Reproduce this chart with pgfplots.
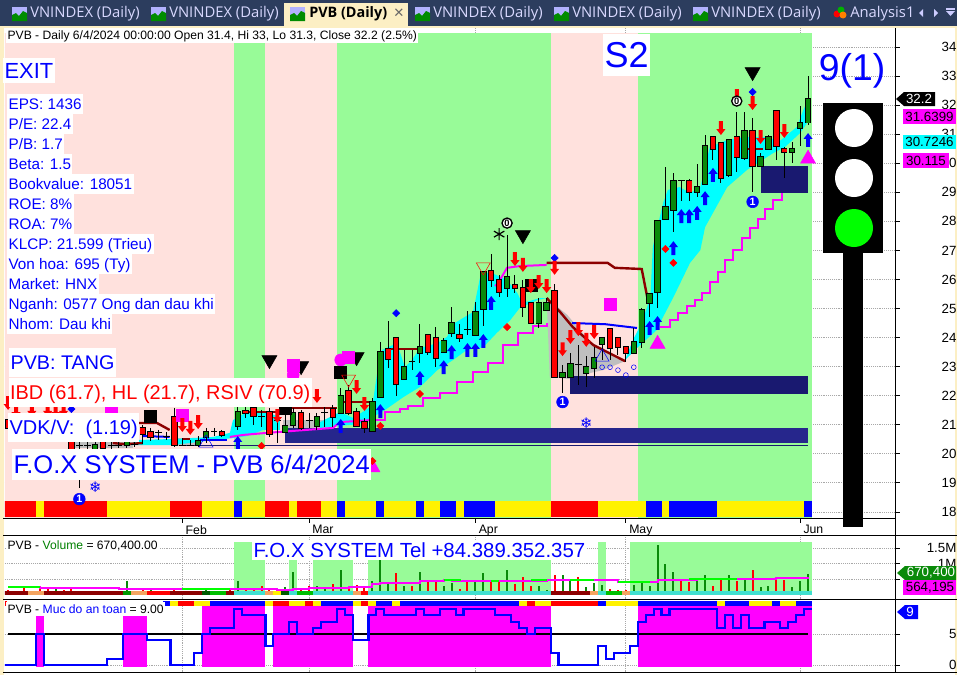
\documentclass[border=0pt]{standalone}
\usepackage{fontspec}
\usepackage{pgfplots}
\usepackage{pgfplotstable}
\pgfplotsset{compat=1.18}
\setmainfont{Liberation Sans}
\newfontfamily\tabfont{Open Sans}
\newfontfamily\symfont{DejaVu Sans}
\newcommand{\fs}[1]{\fontsize{#1}{#1}\selectfont}

\definecolor{magenta}{RGB}{255,0,255}
\definecolor{cyan}{RGB}{0,255,255}
\definecolor{bgpink}{HTML}{FFE1DD}
\definecolor{bggreen}{HTML}{98FB98}
\definecolor{navyA}{HTML}{26268C}
\definecolor{navyB}{HTML}{191970}
\definecolor{cream}{HTML}{FCEFC4}
\definecolor{tabbar}{HTML}{2C3D5E}
\definecolor{volgreen}{HTML}{0A8A0A}
\definecolor{bandturq}{HTML}{40E0D0}
\definecolor{bandorange}{HTML}{F4A460}
\definecolor{gridgray}{HTML}{A8A8A8}
\definecolor{candlegreen}{HTML}{0A8A0A}

% bars: i = bar number, prices
\pgfplotstableread{
i hi lo top bot
1 21.02 20.54 20.89 20.68
10 20.44 20.03 20.30 20.13
14 20.54 20.20 20.40 20.30
23 20.61 20.23 20.44 20.30
24 20.89 20.37 20.75 20.58
28 21.68 20.82 21.44 20.96
34 21.34 20.72 20.96 20.75
35 21.58 20.89 21.41 20.99
38 21.41 20.82 21.27 20.96
41 22.26 21.37 21.99 21.41
45 21.92 20.75 21.78 20.79
46 23.85 21.95 23.50 21.95
49 23.57 22.54 22.98 22.57
51 24.46 23.13 23.67 23.47
54 23.99 23.47 23.88 23.50
55 25.05 24.02 24.50 24.16
58 25.22 24.05 24.88 24.09
59 26.26 24.40 26.26 24.98
62 27.53 25.39 26.08 25.70
66 25.36 24.33 25.19 24.50
67 25.36 24.92 25.19 24.95
69 23.06 22.09 22.78 22.64
70 23.47 22.64 23.09 22.64
72 23.36 22.30 22.98 22.78
73 23.67 22.61 23.30 22.95
74 23.99 23.23 23.99 23.78
78 24.33 23.47 23.85 23.47
79 25.02 23.64 24.95 23.85
80 25.50 24.71 25.50 25.19
81 28.01 25.02 28.01 25.57
82 29.87 28.05 28.49 28.08
83 29.66 27.63 29.39 28.39
86 29.97 28.84 29.18 29.01
87 30.97 29.25 30.59 29.28
90 30.80 29.53 30.80 29.60
92 31.76 30.11 31.11 30.18
94 30.35 29.87 30.21 29.91
95 30.97 30.45 30.90 30.49
98 30.73 30.00 30.49 30.39
99 31.97 30.59 31.39 31.21
100 33 31.3 32.2 31.4
}\upbars
\pgfplotstableread{
i hi lo top bot
-1 21.34 20.68 21.16 20.89
0 21.23 20.61 21.02 20.75
7 20.65 20.06 20.40 20.16
11 20.54 20.06 20.40 20.20
16 20.99 20.33 20.89 20.68
17 20.89 20.44 20.75 20.58
20 21.58 20.23 21.27 20.30
26 20.82 20.58 20.75 20.65
29 21.61 21.23 21.47 21.41
30 21.75 20.99 21.58 21.30
32 21.58 20.58 21.44 20.68
36 21.51 20.82 21.41 20.89
40 21.68 20.92 21.54 21.27
42 22.37 21.34 22.16 21.41
43 21.58 20.92 21.44 20.96
44 21.23 20.72 21.09 20.89
47 24.57 22.95 23.60 23.26
48 23.99 21.99 23.99 22.40
52 24.09 23.40 24.09 23.50
53 24.36 22.98 23.99 23.30
56 24.46 23.85 24.09 23.99
60 26.87 25.74 26.29 25.98
61 26.15 25.39 25.98 25.57
63 26.15 25.53 25.81 25.70
64 25.98 24.71 25.70 25.05
65 25.22 24.46 25.19 24.50
68 25.84 22.64 25.60 22.64
75 24.29 23.23 24.29 23.64
76 23.99 23.40 23.99 23.67
77 23.67 23.16 23.67 23.47
85 29.46 28.70 29.39 29.01
88 30.90 30.11 30.90 30.49
89 30.69 29.32 30.69 29.49
91 31.76 29.70 30.90 30.21
93 31.56 29.01 31.11 29.91
96 31.80 30.11 31.80 30.59
97 30.56 29.49 30.49 30.39
}\dnbars
\pgfplotstableread{
i hi lo c
8 20.47 18.82 20.30
9 20.40 20.13 20.30
12 20.47 20.13 20.30
13 20.40 20.20 20.30
15 20.47 20.23 20.33
18 20.82 20.47 20.72
19 20.75 20.47 20.58
21 20.54 20.27 20.30
22 20.47 20.27 20.30
25 20.89 20.61 20.75
31 21.51 20.92 21.30
33 21.23 20.37 21.16
37 21.41 20.89 21.16
39 21.61 20.92 21.41
50 23.57 22.88 23.19
57 24.91 24.09 24.29
71 23.74 22.37 23.09
84 29.42 28.70 29.39
}\dojibars

% volume
\pgfplotstableread{
i v
5 183000
8 100000
10 90000
14 420000
17 140000
23 120000
24 140000
28 450000
34 235000
35 710000
38 290000
39 215000
41 775000
45 450000
46 1100000
47 400000
49 290000
51 710000
54 260000
55 365000
58 470000
59 690000
62 795000
66 290000
67 130000
69 615000
70 470000
72 235000
73 365000
74 320000
78 320000
79 450000
80 290000
81 1610000
82 970000
83 740000
86 470000
87 645000
90 615000
92 505000
94 235000
95 260000
98 235000
99 450000
100 670400
}\volup
\pgfplotstableread{
i v
-1 160000
1 258000
3 183000
4 225000
6 130000
7 258000
9 100000
16 160000
20 160000
26 100000
27 160000
29 150000
30 130000
31 290000
32 180000
33 150000
36 215000
37 290000
40 345000
42 290000
43 320000
44 290000
48 690000
50 290000
52 450000
53 470000
56 180000
57 430000
60 450000
61 450000
63 345000
64 580000
65 260000
68 645000
71 560000
75 180000
76 150000
77 130000
84 450000
85 400000
88 290000
89 505000
91 430000
93 805000
96 505000
97 470000
}\voldn

\pgfdeclareplotmark{fox up}{%
  \pgfpathmoveto{\pgfqpoint{0pt}{5.2pt}}
  \pgfpathlineto{\pgfqpoint{3.4pt}{0.8pt}}
  \pgfpathlineto{\pgfqpoint{1.5pt}{0.8pt}}
  \pgfpathlineto{\pgfqpoint{1.5pt}{-5.2pt}}
  \pgfpathlineto{\pgfqpoint{-1.5pt}{-5.2pt}}
  \pgfpathlineto{\pgfqpoint{-1.5pt}{0.8pt}}
  \pgfpathlineto{\pgfqpoint{-3.4pt}{0.8pt}}
  \pgfpathclose\pgfusepathqfill}
\pgfdeclareplotmark{fox down}{%
  \pgfpathmoveto{\pgfqpoint{0pt}{-5.2pt}}
  \pgfpathlineto{\pgfqpoint{3.4pt}{-0.8pt}}
  \pgfpathlineto{\pgfqpoint{1.5pt}{-0.8pt}}
  \pgfpathlineto{\pgfqpoint{1.5pt}{5.2pt}}
  \pgfpathlineto{\pgfqpoint{-1.5pt}{5.2pt}}
  \pgfpathlineto{\pgfqpoint{-1.5pt}{-0.8pt}}
  \pgfpathlineto{\pgfqpoint{-3.4pt}{-0.8pt}}
  \pgfpathclose\pgfusepathqfill}

\pgfplotsset{
  fox panel/.style={
    scale only axis, width=667.5pt,
    xmin=-1.389, xmax=110.98,
    xtick={21,37,58,77,99},
    xmajorgrids, ymajorgrids,
    grid style={gridgray, densely dotted, line width=0.6pt},
    axis y line*=right, axis x line*=bottom,
    axis line style={black, line width=0.75pt},
    tick style={black, line width=0.6pt},
    tick align=outside,
    major tick length=3.6pt,
    scaled y ticks=false,
    /pgf/number format/assume math mode=true,
    tick label style={font=\fs{10}},
    yticklabel style={anchor=east, xshift=46pt},
    every axis plot/.append style={forget plot},
  },
  wick/.style={draw=none, no marks, error bars/.cd, y dir=minus, y explicit, error mark=none,
    error bar style={draw=black, line width=0.75pt}},
  body/.style={draw=none, no marks, error bars/.cd, y dir=minus, y explicit, error mark=none,
    error bar style={#1}},
}
\newcommand{\area}[3]{\addplot[fill=#3, draw=none] coordinates {(#1,34.48) (#2,34.48)} \closedcycle;}
\newcommand{\strip}[3]{\addplot[fill=#3, draw=none] coordinates {(#1,18.37) (#2,18.37) (#2,17.83) (#1,17.83)} --cycle;}
\newcommand{\zone}[5]{\addplot[fill=#5, draw=none] coordinates {(#1,#3) (#2,#3) (#2,#4) (#1,#4)} --cycle;}
\newcommand{\varea}[3]{\addplot[fill=#3, draw=none] coordinates {(#1,1690000) (#2,1690000) (#2,0) (#1,0)} --cycle;}
\newcommand{\vband}[3]{\addplot[fill=#3, draw=none] coordinates {(#1,100000) (#2,100000) (#2,0) (#1,0)} --cycle;}
\newcommand{\sarea}[3]{\addplot[fill=magenta, draw=none] coordinates {(#1,#3) (#2,#3) (#2,-0.27) (#1,-0.27)} --cycle;}
\newcommand{\sstrip}[3]{\addplot[fill=#3, draw=none] coordinates {(#1,10.3) (#2,10.3) (#2,9.5) (#1,9.5)} --cycle;}

% text label with a white box: x, y (centre of the capitals), font size in pt, colour, box height in px, text
\newcommand{\lbl}[6]{\node[anchor=west, fill=white, inner xsep=1pt, inner ysep=0pt,
  text height={(0.36*#3+0.375*#5)*1pt}, text depth={(0.375*#5-0.36*#3)*1pt},
  text=#4, font=\fs{#3}] at (#1,#2) {#6};}
\newcommand{\tabicon}[1]{%
  \fill[white!70!blue] (#1,7) rectangle ++(15,14);
  \fill[green!55!black] (#1,21) -- ++(0,-6) -- ++(4,-2) -- ++(3,3) -- ++(4,-5) -- ++(4,2) -- ++(0,8) -- cycle;}
\newcommand{\tabtext}[2]{\node[anchor=west, inner sep=0pt, text=white!85!blue, font=\tabfont\fs{11.1}] at (#1,14) {#2};}

\begin{document}
\begin{tikzpicture}[x=0.75pt, y=-0.75pt]
\path[use as bounding box] (0,0) rectangle (957,675);
\fill[white] (0,0) rectangle (957,675);
% window frame
\fill[cream] (0,26) rectangle (957,28);
\fill[cream] (0,26) rectangle (4,675);
\fill[cream] (955,26) rectangle (957,675);
\fill[tabbar] (0,0) rectangle (957,26);
\fill[cream] (284,3) rectangle (408,26);

% price panel
\begin{axis}[fox panel, at={(3.75pt,-388.5pt)}, anchor=south west, height=367.5pt,
  ymin=17.79, ymax=34.654, ytick={18,...,34},
  xticklabels={Feb,Mar,Apr,May,Jun},
  xticklabel style={anchor=north west, xshift=-1pt, yshift=1.5pt, font=\fs{9.2}},
]
% background zones
\area{-1.5}{27.5}{bgpink}
\area{27.5}{31.5}{bggreen}
\area{31.5}{40.5}{bgpink}
\area{40.5}{67.5}{bggreen}
\area{67.5}{78.5}{bgpink}
\area{78.5}{100.5}{bggreen}
% colour strip along the bottom
\strip{-1.5}{2.5}{red}\strip{2.5}{3.5}{yellow}\strip{3.5}{11.5}{red}\strip{11.5}{19.5}{yellow}
\strip{19.5}{23.5}{red}\strip{23.5}{27.5}{yellow}\strip{27.5}{28.5}{blue}\strip{28.5}{31.5}{yellow}
\strip{31.5}{34.5}{red}\strip{34.5}{35.5}{yellow}\strip{35.5}{38.5}{red}\strip{38.5}{40.5}{yellow}
\strip{40.5}{41.5}{blue}\strip{41.5}{45.5}{yellow}\strip{45.5}{46.5}{blue}\strip{46.5}{50.5}{yellow}
\strip{50.5}{51.5}{blue}\strip{51.5}{53.5}{yellow}\strip{53.5}{55.5}{blue}\strip{55.5}{56.5}{yellow}
\strip{56.5}{60.5}{blue}\strip{60.5}{67.5}{yellow}\strip{67.5}{73.5}{red}\strip{73.5}{79.5}{yellow}
\strip{79.5}{81.5}{blue}\strip{81.5}{82.5}{yellow}\strip{82.5}{88.5}{blue}\strip{88.5}{99.5}{yellow}
\strip{99.5}{100.5}{blue}
% gray zones
\zone{6.6}{14.8}{20.40}{20.20}{lightgray}
\zone{19.8}{23.2}{20.54}{20.27}{lightgray}
\zone{33.7}{39.6}{21.16}{20.89}{lightgray}
\zone{43.7}{44.3}{21.16}{20.89}{lightgray}
\addplot[fill=lightgray, draw=none] coordinates {(67,25.36) (69.6,24.78) (72.5,23.85) (75,23.50) (76.9,23.19) (74.1,22.88) (72.5,22.78) (70.8,22.54) (68.7,22.61) (67.4,22.61)} --cycle;
% cyan band
\addplot[fill=cyan, draw=none] coordinates {(14.8,20.47) (19.8,20.51) (24.9,20.58) (27,20.72) (27.4,21.16) (29.2,21.44) (31.2,21.47) (33.3,21.27) (33.3,20.82) (31.2,20.82) (29.2,20.61) (27.4,20.54) (24.9,20.47) (19.8,20.30) (14.8,20.30)} --cycle;
\addplot[fill=cyan, draw=none] coordinates {(38.4,21.09) (40.9,21.44) (42.6,21.23) (45.1,21.68) (45.1,21.27) (43.2,21.02) (40.9,20.96) (38.4,20.89)} --cycle;
\addplot[fill=cyan, draw=none] coordinates {(45.1,21.85) (45.7,22.98) (46.2,23.57) (48.1,23.81) (49.1,22.98) (50,23.23) (51,23.64) (53.2,23.81) (54.4,24.02) (55.4,24.50) (57.7,24.88) (58.6,26.08) (59.8,26.26) (62,25.98) (63.3,25.53) (63.9,25.19) (66.2,25.36) (67,25.36)
  (65.8,25.29) (63.6,25.02) (62.4,24.60) (60.7,24.16) (59,23.67) (56.9,23.57) (55.2,23.23) (53.2,22.88) (51,22.30) (48.9,21.95) (46.6,21.51) (45.1,21.27)} --cycle;
\addplot[fill=cyan, draw=none] coordinates {(76.9,23.23) (77.9,23.92) (79,24.50) (80.1,25.39) (80.4,27.12) (81.7,28.63) (82.3,29.08) (83.8,29.18) (85.1,28.97) (86.4,29.18) (87.6,30.56) (89.8,30.80) (92,30.90) (95.2,30.90) (96.1,30.69) (98.6,31.25) (99.4,31.83) (100,32.18)
  (99.9,31.39) (99,31.04) (97.1,30.56) (95.6,30.35) (92.3,29.77) (89.8,29.18) (87,27.80) (86.4,27.01) (85.1,26.57) (83,25.39) (81.7,24.71) (80.9,24.26) (78.8,23.74) (76.9,23.23)} --cycle;
% support blocks
\zone{34}{100}{20.89}{20.37}{navyA}
\zone{70}{100}{22.68}{22.06}{navyB}
\zone{94}{100}{29.91}{28.97}{navyB}
\addplot[navyB, line width=0.75pt] coordinates {(21,20.30) (100,20.30)};
% stepped lines
\addplot[magenta, line width=1.5pt] coordinates {(27,20.58) (28.7,20.65) (31.7,20.72) (40,20.89) (40.9,21.09) (44.7,21.16)};
\addplot[magenta, line width=1.5pt, const plot] coordinates {(44.7,21.16) (46.6,21.44) (48.5,21.54) (49.5,21.65) (51.4,21.92) (53.5,22.09) (55.7,22.47) (57.7,22.81) (59.6,23.13) (61.5,23.74) (63.4,24.16) (65.3,24.40) (67,24.50)};
\addplot[magenta, line width=1.5pt] coordinates {(60.5,25.77) (61.1,25.98) (62,26.40) (63.6,26.46) (67,26.50)};
\addplot[magenta, line width=1.5pt, const plot] coordinates {(81.3,24.36) (82.6,24.60) (83.6,24.84) (84.7,25.08) (85.7,25.29) (86.6,25.53) (87.6,25.91) (88.6,26.26) (89.5,26.67) (90.5,27.01) (91.7,27.43) (92.7,27.77) (93.7,28.08) (94.6,28.42) (95.6,28.73) (96.7,28.97)};
% resistance
\addplot[blue, line width=1.5pt] coordinates {(16,20.61) (19.4,20.58)};
\addplot[blue, line width=1.5pt] coordinates {(23.2,20.47) (26.6,20.47)};
\addplot[blue, line width=1.5pt] coordinates {(70.2,24.50) (74.4,24.46) (78.4,24.33)};
\addplot[red!55!black, line width=1.8pt] coordinates {(12.2,20.37) (13.8,20.33) (16,20.37)};
\addplot[red!55!black, line width=1.8pt] coordinates {(15.3,21.06) (17.8,21.06) (19.4,20.82)};
\addplot[red!55!black, line width=1.8pt] coordinates {(21.1,20.51) (22,20.51)};
\addplot[red!55!black, line width=1.8pt] coordinates {(28.7,21.44) (33.7,21.44)};
\addplot[red!55!black, line width=1.8pt] coordinates {(34.3,21.58) (40.5,21.58)};
\addplot[red!55!black, line width=1.8pt] coordinates {(40.9,21.78) (45,21.78)};
\addplot[red!55!black, line width=1.8pt] coordinates {(47,23.60) (51,23.60)};
\addplot[red!55!black, line width=1.8pt] coordinates {(67,26.57) (74.7,26.57) (75.6,26.40) (79,26.36) (79.7,25.39)};
\addplot[red!55!black, line width=1.8pt] coordinates {(67,25.36) (68.7,24.88) (70.3,24.36) (72.9,23.74) (76.9,23.19)};
\addplot[red!55!black, line width=1.8pt] coordinates {(92.3,30.49) (94.3,30.49)};
% candles
\addplot[wick] table[x=i, y=hi, y error minus expr=\thisrow{hi}-\thisrow{lo}] {\upbars};
\addplot[wick] table[x=i, y=hi, y error minus expr=\thisrow{hi}-\thisrow{lo}] {\dnbars};
\addplot[wick] table[x=i, y=hi, y error minus expr=\thisrow{hi}-\thisrow{lo}] {\dojibars};
\addplot[only marks, mark=-, mark size=2.6pt, mark options={black, line width=0.75pt}] table[x=i, y=c] {\dojibars};
\addplot[body={draw=black, line width=4.8pt}] table[x=i, y expr=\thisrow{top}+0.03, y error minus expr=\thisrow{top}-\thisrow{bot}+0.06] {\upbars};
\addplot[body={draw=black, line width=4.8pt}] table[x=i, y expr=\thisrow{top}+0.03, y error minus expr=\thisrow{top}-\thisrow{bot}+0.06] {\dnbars};
\addplot[body={draw=candlegreen, line width=3.4pt}] table[x=i, y=top, y error minus expr=\thisrow{top}-\thisrow{bot}] {\upbars};
\addplot[body={draw=red, line width=3.4pt}] table[x=i, y=top, y error minus expr=\thisrow{top}-\thisrow{bot}] {\dnbars};
% signal marks
\addplot[only marks, mark=triangle*, mark size=6.5pt, mark options={rotate=180}, black] coordinates {(32,23.23) (36,23.02) (43,23.33) (64,27.53) (93,33.14)};
\addplot[only marks, mark=*, mark size=4.5pt, magenta] coordinates {(35,22.71) (41,23.23)};
\addplot[only marks, mark=square*, mark size=4.5pt, magenta] coordinates {(35,23.06) (42,23.33) (21,21.34) (12,21.51) (75,25.15)};
\addplot[only marks, mark=square*, mark size=4.5pt, black] coordinates {(17,21.30) (41,22.81) (65,25.81) (34,21.58)};
\addplot[only marks, mark=triangle*, mark size=6.5pt, magenta] coordinates {(100,30.15) (81,23.78) (45,19.53)};
\addplot[only marks, mark=triangle, mark size=6pt, mark options={rotate=180}, red] coordinates {(42,22.57) (59,26.43)};
\addplot[only marks, mark=triangle, mark size=6pt, blue] coordinates {(74,23.33) (24,20.37)};
\addplot[only marks, mark=o, mark size=1.8pt, blue] coordinates {(74,22.98) (75,22.98) (76,22.88) (77,22.71) (78,22.98)};
\addplot[only marks, mark=square*, mark size=1.9pt, mark options={rotate=45}, blue] coordinates {(48,24.84) (68,26.74) (93,32.45) (7,21.54)};
\addplot[only marks, mark=square*, mark size=1.9pt, mark options={rotate=45}, red] coordinates {(51,22.06) (46,20.96) (62,24.36) (31,20.27) (45,19.75) (82,27.05) (83,26.57)};
\addplot[only marks, mark=fox up, blue] coordinates {(28,20.37) (41,20.96) (46,21.47) (51,22.61) (54,22.98) (55,23.50) (57,23.57) (58,23.57) (59,23.88) (60,25.19) (80,24.33) (81,24.50) (83,27.08) (84,28.18) (85,28.18) (86,28.29) (87,28.80) (88,29.60) (100,30.80)};
\addplot[only marks, mark=fox down, red] coordinates {(-1,21.75) (0,21.47) (2,21.51) (4,21.51) (5,21.47) (6,21.51) (21,20.99) (22,20.89) (23,21.09) (33,21.30) (38,21.99) (43,22.30) (44,21.71) (63,26.70) (64,26.50) (65,25.77) (66,25.91) (67,25.77) (68,26.40) (69,23.60) (70,24.02) (71,24.29) (72,23.92) (73,24.19) (89,31.21) (91,32.31) (93,32.07) (94,30.90) (97,31.11)};
\addplot[only marks, mark=*, mark size=4.4pt, mark options={fill=blue, draw=blue}, nodes near coords={\textbf{1}},
  nodes near coords style={anchor=center, text=white, inner sep=0pt, font=\fs{8}}] coordinates {(69,21.78) (93,28.67) (8,18.44)};
\addplot[only marks, mark=*, mark size=3.8pt, mark options={fill=white, draw=black, line width=1pt}, nodes near coords={\textbf{0}},
  nodes near coords style={anchor=center, text=black, inner sep=0pt, font=\fs{7}}] coordinates {(62,27.94) (91,32.14)};
\addplot[only marks, mark=*, mark size=0.01pt, blue, nodes near coords={\symfont ❄},
  nodes near coords style={anchor=center, text=blue, inner sep=0pt, font=\fs{11}}] coordinates {(72,21.06) (10,18.86)};
\addplot[only marks, mark=asterisk, mark size=4.5pt, mark options={line width=0.9pt}, black] coordinates {(61,27.56)};
\end{axis}

% volume panel
\begin{axis}[fox panel, at={(3.75pt,-449.25pt)}, anchor=south west, height=48pt,
  ymin=-145000, ymax=1919000, ytick={500000,1000000,1500000}, yticklabels={,1M,1.5M},
  xticklabels={}, x axis line style={draw=none}, major x tick style={draw=none},
]
\varea{27.5}{31.5}{bggreen}\varea{34.5}{35.5}{bggreen}\varea{37.5}{42.5}{bggreen}
\varea{44.5}{67.5}{bggreen}\varea{73.5}{74.5}{bggreen}\varea{77.5}{100.5}{bggreen}
\addplot[ycomb, volgreen, line width=1.5pt] table[x=i, y=v] {\volup};
\addplot[ycomb, red, line width=1.5pt] table[x=i, y=v] {\voldn};
\vband{-1.5}{1.5}{red!55!black}\vband{1.5}{3.5}{bandorange}\vband{3.5}{13.5}{red!55!black}
\vband{13.5}{14.5}{green!60!black}\vband{14.5}{16.5}{bandorange}\vband{16.5}{19.5}{red}
\vband{19.5}{23.5}{red!55!black}\vband{23.5}{24.5}{green!35!black}\vband{24.5}{26.5}{green!75!black}
\vband{26.5}{27.5}{red!55!black}\vband{27.5}{31.5}{bandturq}\vband{31.5}{32.5}{bandorange}
\vband{32.5}{33.5}{yellow}\vband{33.5}{34.5}{green!35!black}\vband{34.5}{35.5}{bandturq}
\vband{35.5}{37.5}{green!75!black}\vband{37.5}{42.5}{bandturq}\vband{42.5}{43.5}{bandorange}
\vband{43.5}{44.5}{red}\vband{44.5}{67.5}{bandturq}\vband{67.5}{72.5}{red!55!black}
\vband{72.5}{73.5}{bandorange}\vband{73.5}{74.5}{bandturq}\vband{74.5}{76.5}{green!75!black}
\vband{76.5}{77.5}{bandorange}\vband{77.5}{100.5}{bandturq}
\addplot[magenta, line width=1.5pt, const plot] coordinates {(-1,242000) (3,210000) (13,177000) (27,177000) (33,145000) (35,177000) (37,210000) (42,242000) (45,339000) (46,371000) (51,435000) (54,468000) (55,435000) (61,435000) (67,468000) (74,468000) (76,403000) (80,403000) (81,468000) (86,500000) (96,532000) (100,564195)};
\addplot[green, line width=1.5pt, const plot, unbounded coords=jump] coordinates {(-1,242000) (3,242000) (4,nan) (21,177000) (27,177000) (28,nan) (54,468000) (56,435000) (57,nan) (60,435000) (61,435000) (62,nan) (65,468000) (67,468000) (68,nan) (70,468000) (73,468000) (74,nan) (76,403000) (80,403000) (81,nan) (85,500000) (91,500000) (92,nan)};
\end{axis}

% safety panel
\begin{axis}[fox panel, at={(3.75pt,-504pt)}, anchor=south west, height=54.75pt,
  ymin=-1.13, ymax=10.65, ytick={0,5},
  xticklabels={}, x axis line style={draw=none}, major x tick style={draw=none},
]
\sarea{2.5}{3.5}{7.9}\sarea{13.5}{16.5}{7.9}\sarea{23.5}{31.5}{9.5}
\sarea{32.5}{42.5}{9.5}\sarea{44.5}{67.5}{9.5}\sarea{78.5}{100.5}{9.5}
\sstrip{18.5}{19.5}{blue}\sstrip{19.5}{20.5}{yellow}\sstrip{20.5}{22.5}{red}\sstrip{22.5}{24.5}{yellow}
\sstrip{24.5}{31.5}{blue}\sstrip{31.5}{32.5}{yellow}\sstrip{32.5}{34.5}{red}\sstrip{34.5}{36.5}{yellow}
\sstrip{36.5}{37.5}{red}\sstrip{37.5}{38.5}{yellow}\sstrip{38.5}{42.5}{blue}\sstrip{42.5}{43.5}{yellow}
\sstrip{43.5}{44.5}{red}\sstrip{44.5}{45.5}{yellow}\sstrip{45.5}{47.5}{blue}\sstrip{47.5}{48.5}{yellow}
\sstrip{48.5}{63.5}{blue}\sstrip{63.5}{64.5}{yellow}\sstrip{64.5}{65.5}{red}\sstrip{65.5}{67.5}{yellow}
\sstrip{67.5}{73.5}{red}\sstrip{73.5}{74.5}{blue}\sstrip{74.5}{78.5}{yellow}\sstrip{78.5}{88.5}{blue}
\sstrip{88.5}{89.5}{yellow}\sstrip{89.5}{92.5}{blue}\sstrip{92.5}{95.5}{yellow}\sstrip{95.5}{96.5}{blue}
\sstrip{96.5}{98.5}{yellow}\sstrip{98.5}{100.5}{blue}
\addplot[black, line width=1.5pt] coordinates {(-1,5) (100,5)};
\addplot[blue, line width=1.6pt, const plot] coordinates {(-1.5,0) (2.5,5) (3.5,0) (11.5,1) (13.5,5) (16.5,4) (19.5,0) (22.5,2) (23.5,5) (24.5,6) (27.5,9) (28.5,8) (31.5,3) (32.5,5) (34.5,7) (35.5,5) (37.5,6) (38.5,7) (40.5,9) (41.5,8) (42.5,4) (44.5,8) (45.5,9) (46.5,8) (50.5,9) (51.5,8) (53.5,9) (55.5,8) (56.5,9) (60.5,8) (62.5,7) (63.5,6) (64.5,5) (65.5,6) (67.5,2) (68.5,0) (73.5,3) (74.5,1) (75.5,2) (77.5,3) (78.5,7) (79.5,8) (80.5,9) (81.5,8) (82.5,9) (88.5,6) (89.5,8) (90.5,6) (91.5,8) (92.5,6) (94.5,7) (96.5,6) (97.5,7) (98.5,8) (99.5,9) (100.5,9)};
\end{axis}

% panel rules
\draw[black, line width=0.75pt] (3,518) -- (895,518) (3,535) -- (957,535) (3,599) -- (957,599) (3,672) -- (957,672);
\draw[black, line width=0.75pt] (895.5,28) -- (895.5,672);
\fill[red] (5,601) rectangle (7,606);

% traffic light
\fill[black] (843,253) rectangle (863,527);
\fill[black] (823,103) rectangle (883,253);
\fill[white] (854,128) circle (19);
\fill[white] (854,178) circle (19);
\fill[green] (854,228) circle (19);

% tabs
\foreach \x in {12,151,415,554,693} {\tabicon{\x}}
\tabicon{290}
\tabtext{30}{VNINDEX (Daily)}
\tabtext{169}{VNINDEX (Daily)}
\tabtext{433}{VNINDEX (Daily)}
\tabtext{572}{VNINDEX (Daily)}
\tabtext{711}{VNINDEX (Daily)}
\tabtext{850}{Analysis1}
\node[anchor=west, inner sep=0pt, text=black, font=\tabfont\bfseries\fs{10.8}] at (309,14) {PVB (Daily)};
\node[inner sep=0pt, text=black!60, font=\fs{13}] at (399,13.5) {×};
\fill[red] (837,14) circle (3.5);
\fill[green!70!black] (841,10) circle (3.5);
\fill[orange] (843,15) circle (3.5);
\fill[white!80!blue] (923,9) -- (923,17) -- (919,13) -- cycle;
\fill[white!80!blue] (934,9) -- (934,17) -- (938,13) -- cycle;
\fill[white!80!blue] (946,11) -- (955,11) -- (950.5,16) -- cycle;
\fill[white!80!blue] (946,8) rectangle (955,9.5);

% text on the chart
\lbl{6}{35.5}{9.1}{black}{15}{PVB - Daily 6/4/2024 00:00:00 Open 31.4, Hi 33, Lo 31.3, Close 32.2 (2.5\%)}
\lbl{3}{70.5}{16.4}{blue}{25}{EXIT}
\lbl{7}{104}{11.45}{blue}{20}{EPS: 1436}
\lbl{7}{124}{11.45}{blue}{20}{P/E: 22.4}
\lbl{7}{144}{11.45}{blue}{20}{P/B: 1.7}
\lbl{7}{164}{11.45}{blue}{20}{Beta: 1.5}
\lbl{7}{184}{11.45}{blue}{20}{Bookvalue: 18051}
\lbl{7}{204}{11.45}{blue}{20}{ROE: 8\%}
\lbl{7}{224}{11.45}{blue}{20}{ROA: 7\%}
\lbl{7}{244}{11.45}{blue}{20}{KLCP: 21.599 (Trieu)}
\lbl{7}{264}{11.45}{blue}{20}{Von hoa: 695 (Ty)}
\lbl{7}{284}{11.45}{blue}{20}{Market: HNX}
\lbl{7}{304}{11.45}{blue}{20}{Nganh: 0577 Ong dan dau khi}
\lbl{7}{324}{11.45}{blue}{20}{Nhom: Dau khi}
\lbl{9}{362.5}{14.8}{blue}{29}{PVB: TANG}
\lbl{8.5}{392.5}{14.95}{red}{29}{IBD (61.7), HL (21.7), RSIV (70.9)}
\lbl{8}{427.5}{15}{blue}{29}{VDK/V:\ \ (1.19)}
\lbl{12}{464.5}{19.15}{blue}{31}{F.O.X SYSTEM - PVB 6/4/2024}
\lbl{603}{54.5}{27}{blue}{42}{S2}
\node[anchor=center, inner sep=0pt, text=blue, font=\fs{28}] at (852,71) {9(1)};
\lbl{252}{550}{15.3}{blue}{20}{F.O.X SYSTEM Tel +84.389.352.357}
\lbl{6}{545}{9.1}{black}{14}{PVB - \textcolor{green!50!black}{Volume} = 670,400.00}
\lbl{6}{609}{9.1}{black}{14}{PVB - \textcolor{blue}{Muc do an toan} = 9.00}

% value tags on the right
\fill[black] (896,99) -- (904,92) -- (935,92) -- (935,106) -- (904,106) -- cycle;
\node[text=white, inner sep=0pt, font=\fs{10}] at (919,99) {32.2};
\fill[magenta] (903,109) rectangle (956,124);
\node[text=black, inner sep=0pt, font=\fs{10}] at (929.5,116.5) {31.6399};
\fill[cyan] (903,135) rectangle (956,149);
\node[text=black, inner sep=0pt, font=\fs{10}] at (929.5,142) {30.7246};
\fill[magenta] (903,153) rectangle (949,168);
\node[text=black, inner sep=0pt, font=\fs{10}] at (926,160.5) {30.115};
\fill[volgreen] (897,573) -- (905,566) -- (956,566) -- (956,580) -- (905,580) -- cycle;
\node[text=white, inner sep=0pt, font=\fs{10}] at (931,573) {670,400};
\fill[magenta] (903,580) rectangle (956,595);
\node[text=black, inner sep=0pt, font=\fs{10}] at (930,587.5) {564,195};
\fill[blue] (897,612) -- (905,605) -- (918,605) -- (918,619) -- (905,619) -- cycle;
\node[text=white, inner sep=0pt, font=\fs{10}] at (910,612) {9};
\end{tikzpicture}
\end{document}
